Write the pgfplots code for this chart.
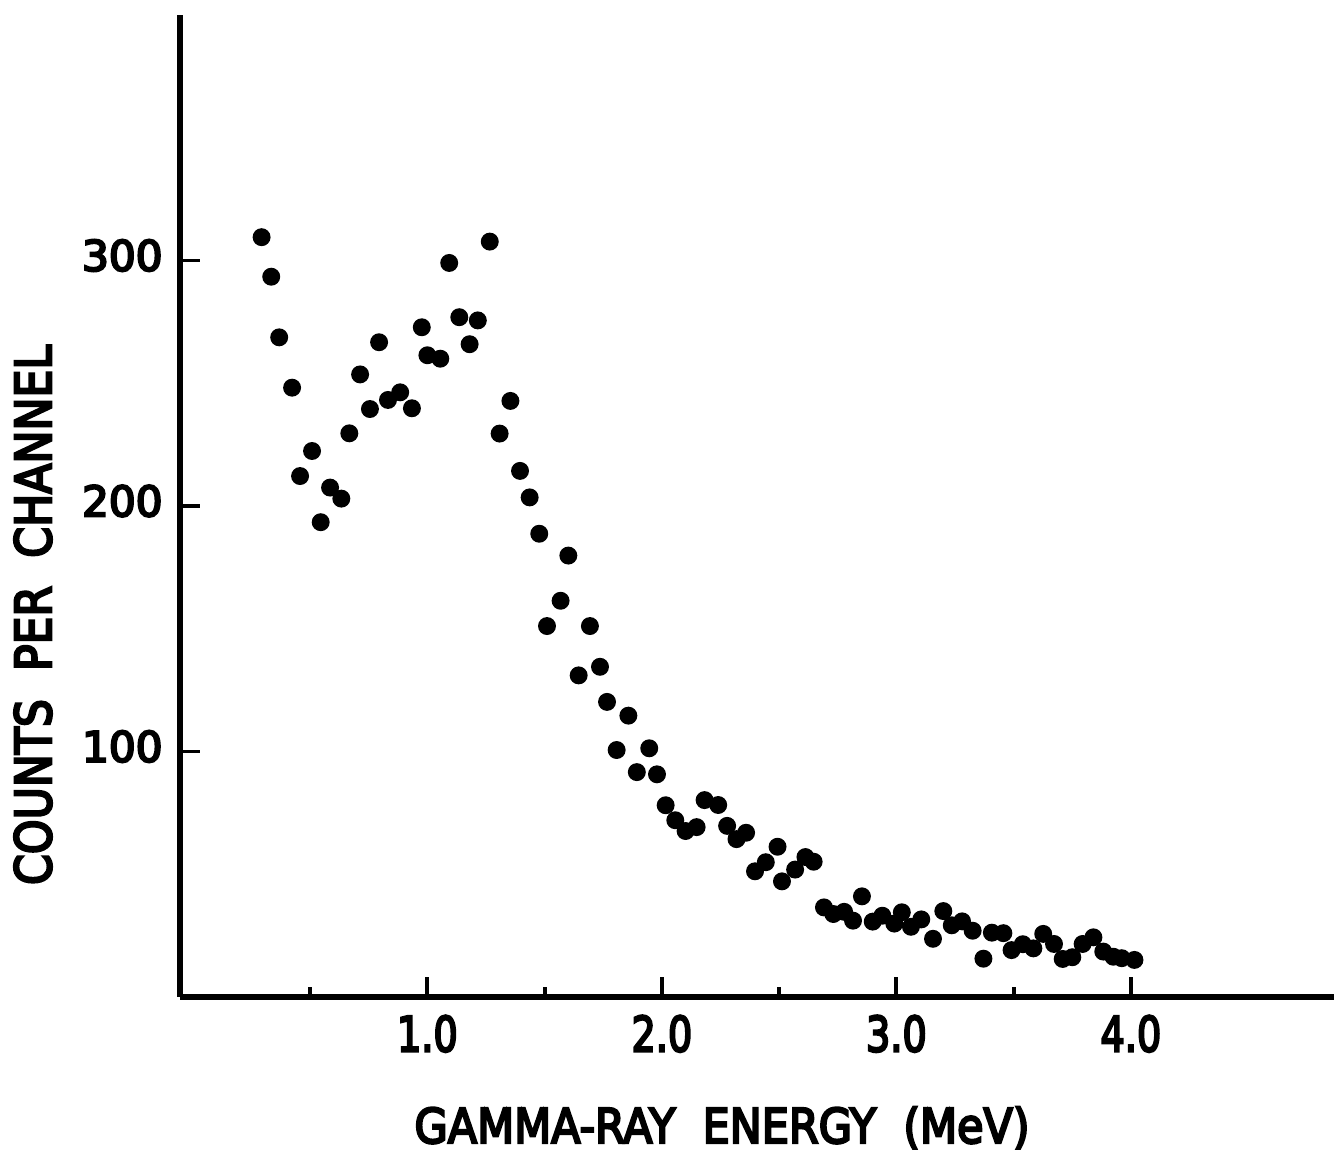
\documentclass[border=0pt]{standalone}
\usepackage{pgfplots}
\pgfplotsset{compat=1.18}
\usepackage{fontspec}
\setmainfont{DejaVu Sans}
\newfontfamily\semib{DejaVu Sans}[FakeBold=5]
\pgfplotstableread{
x y
0.293 309.5
0.334 293.4
0.368 268.7
0.423 248.2
0.457 212.2
0.508 222.4
0.545 193.4
0.585 207.5
0.633 203.0
0.667 229.6
0.713 253.6
0.755 239.5
0.794 266.7
0.832 243.2
0.884 246.3
0.934 239.8
0.976 272.8
1.000 261.4
1.055 260.0
1.093 299.0
1.136 276.9
1.180 265.9
1.215 275.6
1.266 307.7
1.308 229.5
1.354 242.8
1.395 214.3
1.436 203.5
1.477 188.7
1.510 151.1
1.568 161.4
1.601 179.8
1.645 131.0
1.693 151.1
1.736 134.5
1.766 120.2
1.807 100.6
1.857 114.6
1.893 91.6
1.946 101.3
1.979 90.7
2.016 78.1
2.057 72.0
2.101 67.6
2.148 69.2
2.182 80.2
2.240 78.2
2.278 69.7
2.318 64.3
2.359 66.9
2.397 51.2
2.443 54.9
2.493 61.2
2.512 47.1
2.568 51.9
2.612 57.0
2.647 55.1
2.691 36.5
2.731 33.8
2.777 34.7
2.815 31.1
2.853 41.0
2.899 30.7
2.940 33.1
2.991 29.9
3.023 34.5
3.062 28.6
3.106 31.6
3.156 23.7
3.200 35.0
3.236 29.2
3.280 30.8
3.325 27.0
3.371 15.6
3.407 26.2
3.456 26.0
3.491 19.1
3.539 21.5
3.584 19.8
3.626 25.7
3.672 21.6
3.709 15.5
3.750 16.2
3.794 21.6
3.840 24.3
3.882 18.5
3.925 16.4
3.961 15.8
4.015 15.1
}\spectrum
\newcommand{\xl}[1]{\scalebox{0.85}[1.08]{#1}}
\begin{document}
\begin{tikzpicture}
\path[use as bounding box] (-18mm,-15.3mm) rectangle (115.4mm,99.7mm);
\begin{axis}[
  at={(0,0)}, anchor=south west,
  width=115.4mm, height=98.2mm, scale only axis,
  xmin=-0.055, xmax=4.866, ymin=0, ymax=400,
  axis lines=left,
  axis line style={-, line width=1.5pt},
  tick align=inside,
  xtick={1,2,3,4}, xticklabels={\xl{1.0},\xl{2.0},\xl{3.0},\xl{4.0}},
  minor xtick={0.5,1.5,2.5,3.5},
  ytick={100,200,300}, yticklabels={100,200,300},
  major tick length=2mm, minor tick length=1mm,
  every tick/.append style={black, line width=1.1pt},
  yticklabel style={font=\fontsize{12}{14}\semib, xshift=-0.5mm, yshift=0.5mm},
  xticklabel style={font=\fontsize{12.8}{15}\semib, yshift=-0.6mm},
  /pgf/number format/assume math mode=true,
  xlabel={\resizebox{61.5mm}{\height}{\fontsize{13.6}{16}\semib GAMMA-RAY\ \ ENERGY\ \ (MeV)}},
  xlabel style={at={(axis description cs:0.4697,-0.1334)}, anchor=center},
  ylabel={\resizebox{54mm}{3.7mm}{\semib COUNTS\ \ PER\ \ CHANNEL}},
  ylabel style={at={(axis description cs:-0.1274,0.389)}, anchor=center},
  clip=false,
]
\addplot[only marks, mark=*, mark size=2.35pt, black] table[x=x, y=y] {\spectrum};
\end{axis}
\end{tikzpicture}
\end{document}
